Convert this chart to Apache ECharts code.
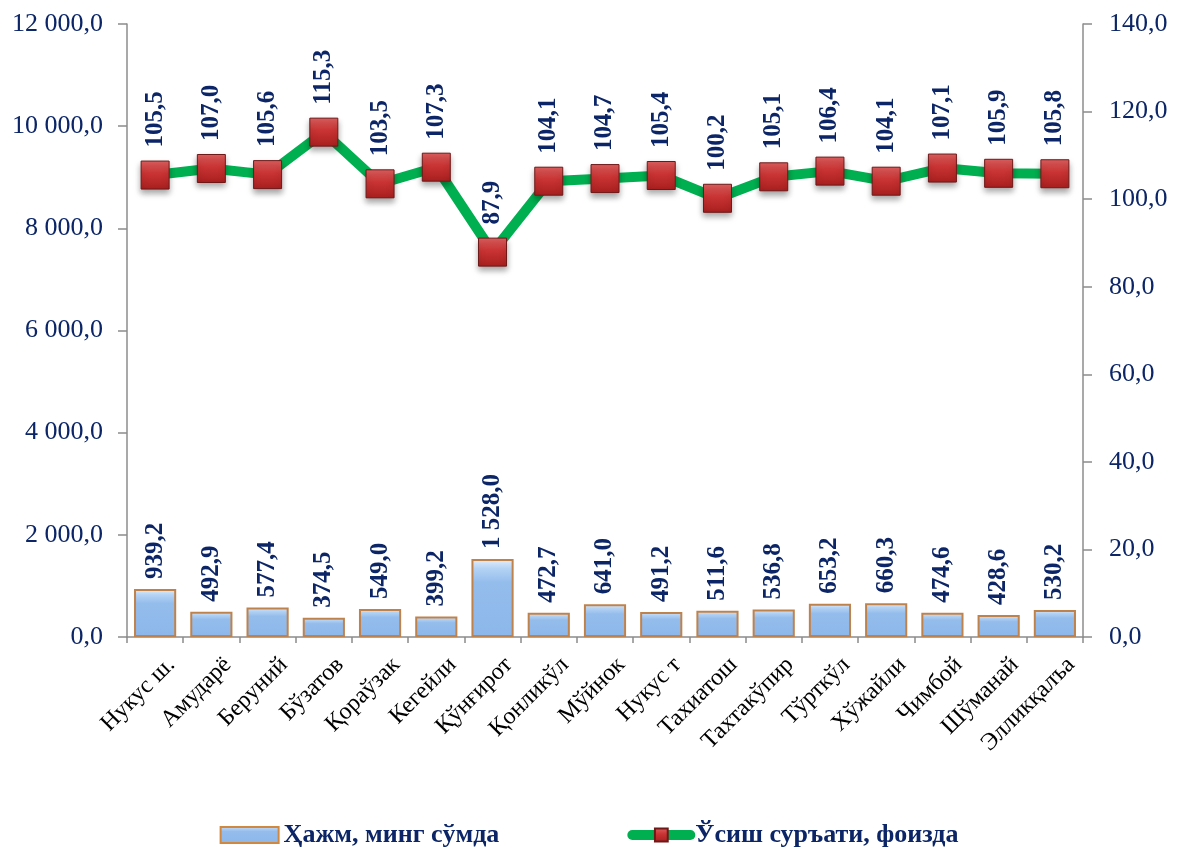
<!DOCTYPE html>
<html><head><meta charset="utf-8">
<script src="https://cdn.jsdelivr.net/npm/echarts@6/dist/echarts.min.js"></script>
<style>html,body{margin:0;padding:0;background:#fff}#c{width:1178px;height:855px}</style>
</head><body><div id="c"></div>
<script>
const categories = ['Нукус ш.','Амударё','Беруний','Бўзатов','Қораўзак','Кегейли','Қўнғирот','Қонликўл','Мўйнок','Нукус т','Тахиатош','Тахтакўпир','Тўрткўл','Хўжайли','Чимбой','Шўманай','Элликқалъа'];
const volume = [939.2,492.9,577.4,374.5,549.0,399.2,1528.0,472.7,641.0,491.2,511.6,536.8,653.2,660.3,474.6,428.6,530.2];
const growth = [105.5,107.0,105.6,115.3,103.5,107.3,87.9,104.1,104.7,105.4,100.2,105.1,106.4,104.1,107.1,105.9,105.8];
const seriesNames = ['Ҳажм, минг сўмда','Ўсиш суръати, фоизда'];

function fmt(v){
  const s = Number(v).toFixed(1).split('.');
  const intp = s[0].replace(/\B(?=(\d{3})+(?!\d))/g,' ');
  return intp + ',' + s[1];
}
const navy = '#0B2566';
const serif = '"Liberation Serif","Times New Roman",serif';
const chart = echarts.init(document.getElementById('c'));
chart.setOption({
  animation:false,
  textStyle:{fontFamily:serif},
  grid:{left:127,right:95,top:24,bottom:218,containLabel:false},
  legend:{
    bottom:2,left:'center',itemGap:128,itemWidth:58,itemHeight:16,
    textStyle:{fontFamily:serif,fontSize:26,fontWeight:'bold',color:navy},
    data:[{name:seriesNames[0],icon:'rect',itemStyle:{borderColor:'#D08840',borderWidth:2}},
          {name:seriesNames[1],lineStyle:{width:10,cap:'round',color:'#00B050'}}]
  },
  xAxis:{
    type:'category',data:categories,
    axisLine:{lineStyle:{color:'#8c8c8c',width:1.5}},
    axisTick:{show:true,alignWithLabel:false,length:6,lineStyle:{color:'#8c8c8c',width:1.5}},
    axisLabel:{rotate:45,color:'#000',fontSize:24,fontFamily:serif,interval:0,margin:8,
      verticalAlign:'top',lineHeight:46}
  },
  yAxis:[{
    type:'value',min:0,max:12000,interval:2000,
    splitLine:{show:false},
    axisLine:{show:true,lineStyle:{color:'#8c8c8c',width:1.5}},
    axisTick:{show:true,length:9,lineStyle:{color:'#8c8c8c',width:1.5}},
    axisLabel:{color:navy,fontSize:26,fontFamily:serif,formatter:fmt,margin:24}
  },{
    type:'value',min:0,max:140,interval:20,position:'right',
    splitLine:{show:false},
    axisLine:{show:true,lineStyle:{color:'#8c8c8c',width:1.5}},
    axisTick:{show:true,length:9,lineStyle:{color:'#8c8c8c',width:1.5}},
    axisLabel:{color:navy,fontSize:26,fontFamily:serif,formatter:fmt,margin:26}
  }],
  series:[{
    name:seriesNames[0],type:'bar',yAxisIndex:0,data:volume,barCategoryGap:'25%',
    itemStyle:{
      color:new echarts.graphic.LinearGradient(0,0,0,1,[
        {offset:0,color:'#E4F0FC'},{offset:0.12,color:'#B5D3F4'},{offset:0.3,color:'#94BDEC'},{offset:1,color:'#8CB7EA'}]),
      borderColor:'#C0824C',borderWidth:2
    },
    label:{show:true,position:'top',rotate:90,align:'left',verticalAlign:'middle',distance:10,
      formatter:p=>fmt(p.value),color:navy,fontSize:25,fontWeight:'bold',fontFamily:serif}
  },{
    name:seriesNames[1],type:'line',yAxisIndex:1,data:growth,
    lineStyle:{color:'#00B050',width:10},
    itemStyle:{
      color:new echarts.graphic.LinearGradient(0,0,0,1,[
        {offset:0,color:'#E06060'},{offset:0.45,color:'#C93333'},{offset:1,color:'#A81F1F'}]),
      borderColor:'#6E1818',borderWidth:1,
      shadowBlur:6,shadowColor:'rgba(0,0,0,0.35)',shadowOffsetY:4
    },
    symbol:'rect',symbolSize:28,
    label:{show:true,position:'top',rotate:90,align:'left',verticalAlign:'middle',distance:13,
      formatter:p=>fmt(p.value),color:navy,fontSize:25,fontWeight:'bold',fontFamily:serif}
  }]
});
</script></body></html>
